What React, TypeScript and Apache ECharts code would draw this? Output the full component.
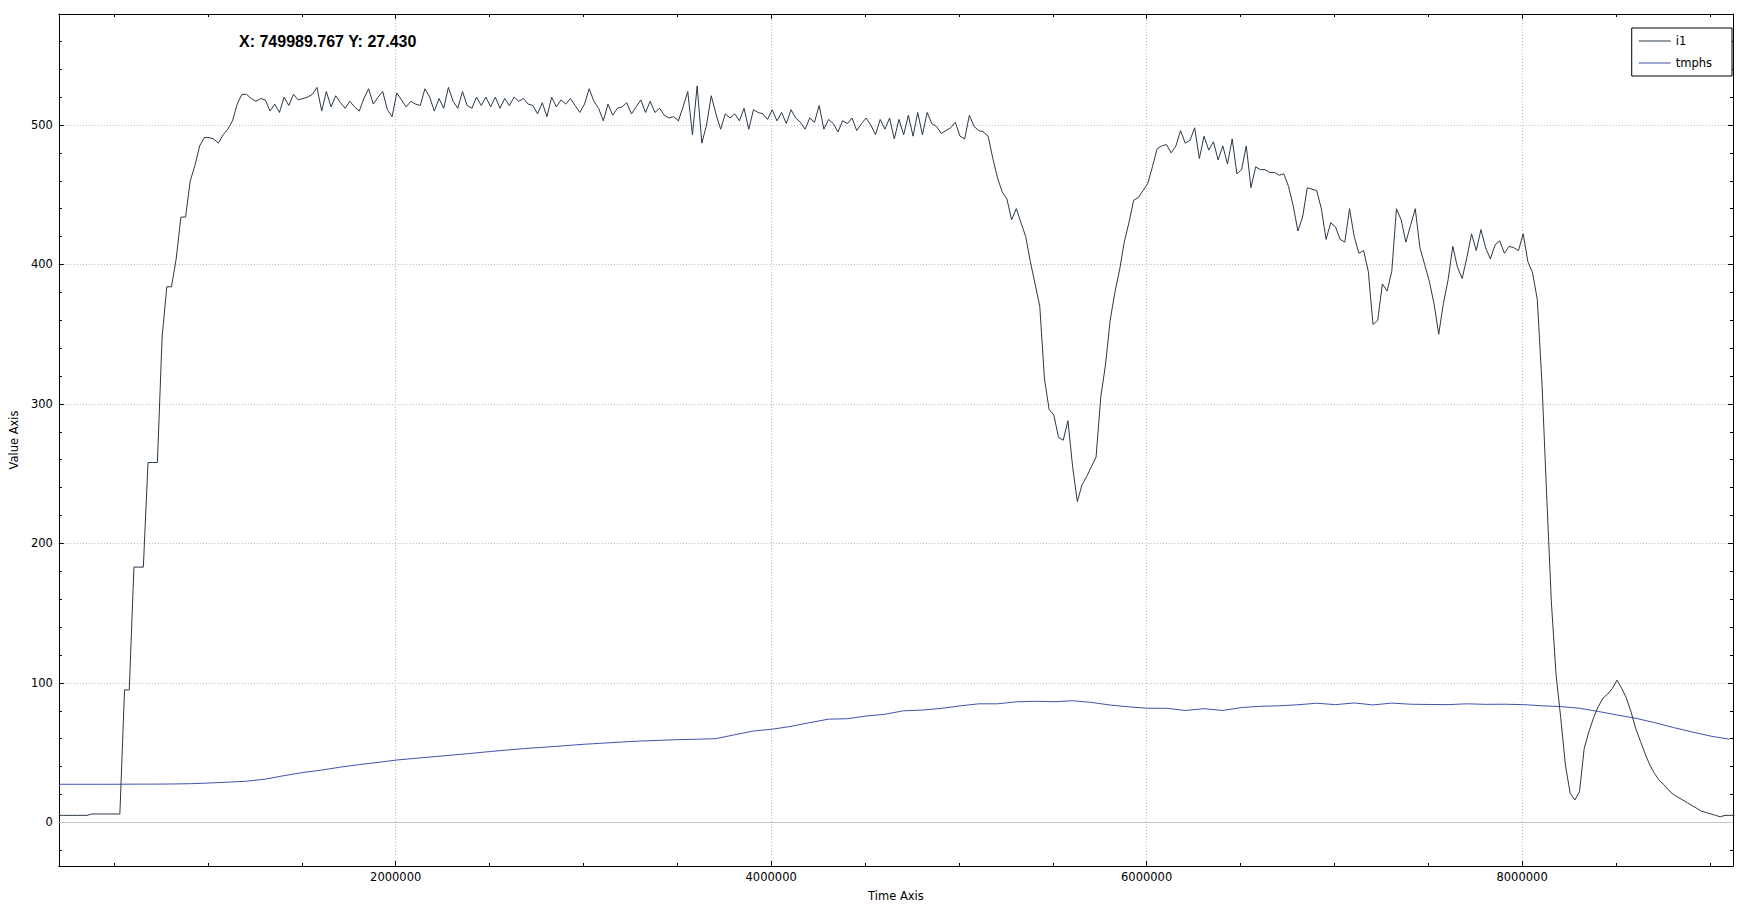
import React, { useEffect, useRef } from "react";
import * as echarts from "echarts";

// Axis ranges
const X_MIN = 205800;
const X_MAX = 9123400;
const Y_MIN = -31.3;
const Y_MAX = 579.6;

const seriesNames = ["i1", "tmphs"];
const cursorLabel = "X: 749989.767 Y: 27.430";
const xAxisName = "Time Axis";
const yAxisName = "Value Axis";

// i1: sampled every 25000 time units starting at i1Start
const i1Start = 205800;
const i1Step = 25000;
const i1Values = [
  5, 5, 5, 5, 5, 5, 5, 6, 6, 6,
  6, 6, 6, 6, 95, 95, 183, 183, 183, 258,
  258, 258, 348, 384, 384, 404, 434, 434, 460, 471,
  485, 491, 491, 490, 487, 493, 497, 503, 515, 522,
  522, 519, 517, 519, 518, 510, 515, 509, 520, 514,
  522, 518, 519, 520, 522, 527, 510, 524, 513, 521,
  516, 512, 517, 513, 510, 519, 526, 515, 520, 524,
  511, 506, 523, 518, 513, 517, 515, 514, 526, 520,
  510, 519, 512, 527, 517, 512, 524, 514, 512, 520,
  514, 520, 513, 520, 512, 519, 514, 520, 517, 519,
  515, 514, 508, 516, 506, 520, 513, 518, 515, 519,
  514, 509, 515, 526, 517, 512, 503, 515, 507, 512,
  513, 516, 508, 513, 518, 509, 517, 509, 512, 507,
  505, 506, 503, 513, 524, 493, 528, 487, 500, 521,
  508, 497, 508, 505, 508, 503, 512, 497, 511, 509,
  508, 504, 511, 503, 509, 501, 511, 505, 502, 497,
  505, 502, 514, 497, 504, 501, 495, 503, 501, 505,
  496, 501, 505, 500, 493, 504, 497, 505, 490, 504,
  493, 507, 492, 509, 493, 509, 501, 499, 494, 496,
  498, 502, 492, 490, 507, 499, 496, 495, 492, 476,
  462, 452, 447, 432, 440, 430, 420, 402, 386, 370,
  318, 296, 292, 276, 274, 288, 255, 230, 242, 248,
  255, 262, 305, 328, 360, 380, 396, 416, 430, 446,
  448, 453, 458, 470, 483, 485, 486, 480, 485, 496,
  487, 489, 498, 476, 492, 482, 488, 475, 485, 472,
  490, 465, 468, 485, 455, 470, 468, 468, 466, 466,
  464, 465, 456, 442, 424, 434, 455, 454, 453, 440,
  418, 430, 427, 418, 416, 440, 420, 408, 410, 395,
  357, 360, 386, 381, 395, 440, 432, 416, 428, 440,
  412, 400, 388, 372, 350, 372, 389, 413, 398, 390,
  405, 422, 410, 425, 412, 404, 414, 417, 408, 413,
  412, 410, 422, 402, 394, 375, 315, 235, 158, 106,
  75, 41, 21, 16, 22, 53, 65, 75, 83, 89,
  92, 96, 102, 96, 89, 79, 67, 58, 49, 41,
  35, 30, 27, 23, 20, 18, 16, 14, 12, 10,
  8, 7, 6, 5, 4, 5, 5, 5,
];

// tmphs: sampled every 100000 time units starting at tmphsStart
const tmphsStart = 205800;
const tmphsStep = 100000;
const tmphsValues = [
  27.3, 27.3, 27.3, 27.3, 27.4, 27.4, 27.5, 27.7, 28.2, 28.8,
  29.5, 31.0, 33.5, 35.7, 37.5, 39.6, 41.4, 43.0, 44.7, 45.9,
  47.1, 48.3, 49.5, 50.8, 52.0, 53.1, 54.0, 55.0, 56.0, 56.8,
  57.6, 58.3, 58.8, 59.3, 59.6, 60.0, 62.8, 65.5, 66.8, 68.8,
  71.5, 74.0, 74.3, 76.2, 77.5, 80.0, 80.5, 81.7, 83.5, 85.0,
  85.0, 86.4, 86.8, 86.5, 87.2, 86.0, 84.1, 82.8, 81.8, 81.8,
  80.2, 81.5, 80.2, 82.3, 83.2, 83.6, 84.3, 85.4, 84.4, 85.6,
  84.2, 85.5, 84.7, 84.5, 84.4, 85.0, 84.6, 84.7, 84.4, 83.6,
  83.0, 81.8, 79.5, 77.0, 74.6, 71.5, 68.0, 64.8, 61.8, 59.6,
];

const I1_COLOR = "#2b3847";
const TMPHS_COLOR = "#4152ab";
const FONT = "DejaVu Sans";
const FS = 11.5;

export default function App() {
  const ref = useRef<HTMLDivElement>(null);

  useEffect(() => {
    if (!ref.current) return;
    const chart = echarts.init(ref.current, undefined, { renderer: "svg" });

    const i1Data = i1Values.map((v, i) => [i1Start + i * i1Step, v]);
    const tmphsData = tmphsValues.map((v, i) => [tmphsStart + i * tmphsStep, v]);

    const black = { color: "#000", width: 1 };
    const gridLine = { show: true, lineStyle: { color: "#bcbcbc", type: [1, 2] as any, width: 1 } };

    const xBase = {
      type: "value" as const,
      min: X_MIN,
      max: X_MAX,
      splitNumber: 4,
      minInterval: 2000000,
      maxInterval: 2000000,
      axisLine: { show: true, onZero: false, lineStyle: black },
      axisTick: { show: true, inside: true, length: 5, lineStyle: black },
      minorTick: { show: true, splitNumber: 4, length: 3, lineStyle: black },
    };
    const yBase = {
      type: "value" as const,
      min: Y_MIN,
      max: Y_MAX,
      splitNumber: 6,
      minInterval: 100,
      maxInterval: 100,
      axisLine: { show: true, onZero: false, lineStyle: black },
      axisTick: { show: true, inside: true, length: 5, lineStyle: black },
      minorTick: { show: true, splitNumber: 5, length: 3, lineStyle: black },
    };

    chart.setOption({
      animation: false,
      backgroundColor: "#ffffff",
      grid: { left: 58, top: 14, right: 15, bottom: 44, containLabel: false },
      legend: {
        data: seriesNames.map((n) => ({ name: n, icon: "rect" })),
        orient: "vertical",
        right: 16,
        top: 28,
        itemWidth: 32,
        itemHeight: 1,
        itemGap: 10,
        padding: [7, 20, 7, 7],
        borderColor: "#000",
        borderWidth: 1,
        backgroundColor: "#fff",
        selectedMode: false,
        align: "left",
        textStyle: { fontFamily: FONT, fontSize: FS, color: "#000" },
      },
      xAxis: [
        {
          ...xBase,
          position: "bottom",
          name: xAxisName,
          nameLocation: "middle",
          nameGap: 24,
          nameTextStyle: { fontFamily: FONT, fontSize: FS, color: "#000" },
          axisLabel: {
            show: true,
            margin: 5,
            color: "#000",
            fontFamily: FONT,
            fontSize: FS,
            showMinLabel: false,
            showMaxLabel: false,
            formatter: (v: number) => (Math.abs(v % 2000000) < 1e-6 ? String(v) : ""),
          },
          splitLine: gridLine,
        },
        {
          ...xBase,
          position: "top",
          axisLabel: { show: false },
          splitLine: { show: false },
        },
      ],
      yAxis: [
        {
          ...yBase,
          position: "left",
          name: yAxisName,
          nameLocation: "middle",
          nameGap: 38,
          nameTextStyle: { fontFamily: FONT, fontSize: FS, color: "#000" },
          axisLabel: {
            show: true,
            margin: 6,
            color: "#000",
            fontFamily: FONT,
            fontSize: FS,
            showMinLabel: false,
            showMaxLabel: false,
            formatter: (v: number) => (Math.abs(v % 100) < 1e-6 ? String(v) : ""),
          },
          splitLine: gridLine,
        },
        {
          ...yBase,
          position: "right",
          axisLabel: { show: false },
          splitLine: { show: false },
        },
      ],
      series: [
        {
          name: seriesNames[0],
          type: "line",
          data: i1Data,
          xAxisIndex: 0,
          yAxisIndex: 0,
          symbol: "none",
          showSymbol: false,
          clip: true,
          color: I1_COLOR,
          itemStyle: { color: I1_COLOR },
          lineStyle: { color: I1_COLOR, width: 1 },
          z: 3,
        },
        {
          name: seriesNames[1],
          type: "line",
          data: tmphsData,
          xAxisIndex: 0,
          yAxisIndex: 0,
          symbol: "none",
          showSymbol: false,
          clip: true,
          color: TMPHS_COLOR,
          itemStyle: { color: TMPHS_COLOR },
          lineStyle: { color: TMPHS_COLOR, width: 1 },
          z: 2,
          markLine: {
            silent: true,
            symbol: "none",
            label: { show: false },
            lineStyle: { color: "#c4c4c4", type: "solid", width: 1 },
            data: [{ yAxis: 0 }],
          },
        },
      ],
      graphic: [
        {
          type: "text",
          x: 239,
          y: 41,
          z: 100,
          style: {
            text: cursorLabel,
            font: 'bold 16px "Liberation Sans"',
            fill: "#000",
            verticalAlign: "middle",
          },
        },
      ],
    });

    return () => {
      chart.dispose();
    };
  }, []);

  return (
    <div
      ref={ref}
      style={{ position: "absolute", left: 0, top: 0, width: 1748, height: 910, background: "#fff" }}
    />
  );
}
